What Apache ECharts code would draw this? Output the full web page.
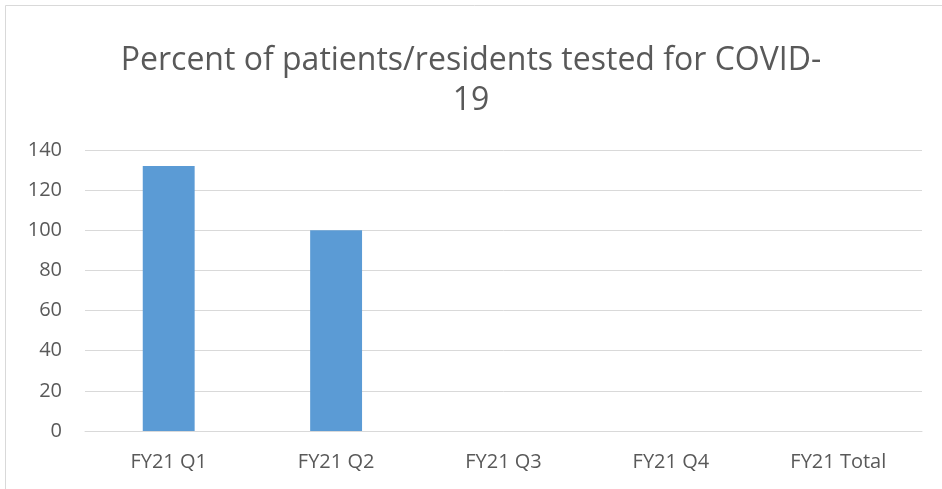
<!DOCTYPE html>
<html>
<head>
<meta charset="utf-8">
<script src="https://cdn.jsdelivr.net/npm/echarts@6/dist/echarts.min.js"></script>
<style>
  html, body { margin: 0; padding: 0; background: #fff; }
  #chart { width: 942px; height: 489px; }
</style>
</head>
<body>
<div id="chart"></div>
<script>
var categories = ['FY21 Q1', 'FY21 Q2', 'FY21 Q3', 'FY21 Q4', 'FY21 Total']
var values = [132, 100, null, null, null]
var yTicks = [0, 20, 40, 60, 80, 100, 120, 140]

var chart = echarts.init(document.getElementById('chart'))
chart.setOption({
  backgroundColor: '#fff',
  graphic: [{
    type: 'rect',
    shape: { x: 5.5, y: 5.5, width: 960, height: 500 },
    style: { fill: 'none', stroke: '#d9d9d9', lineWidth: 1 },
    silent: true
  }],
  title: {
    text: 'Percent of patients/residents tested for COVID-\n19',
    left: 'center',
    top: 36,
    textStyle: {
      fontFamily: 'Open Sans',
      fontWeight: 'normal',
      fontSize: 32,
      lineHeight: 40,
      color: '#595959'
    }
  },
  grid: {
    left: 85,
    right: 20,
    top: 150,
    bottom: 58
  },
  xAxis: {
    type: 'category',
    data: categories,
    axisTick: { show: false },
    axisLine: { lineStyle: { color: '#d9d9d9', width: 1 } },
    axisLabel: {
      color: '#595959',
      fontSize: 20,
      fontFamily: 'Open Sans',
      margin: 21
    }
  },
  yAxis: {
    type: 'value',
    min: yTicks[0],
    max: yTicks[yTicks.length - 1],
    interval: 20,
    axisLine: { show: false },
    axisTick: { show: false },
    axisLabel: {
      color: '#595959',
      fontSize: 20,
      fontFamily: 'Open Sans',
      margin: 23
    },
    splitLine: { lineStyle: { color: '#d9d9d9', width: 1 } }
  },
  series: [{
    type: 'bar',
    data: values,
    barWidth: '31%',
    itemStyle: { color: '#5b9bd5' },
    animation: false
  }]
})
</script>
</body>
</html>
